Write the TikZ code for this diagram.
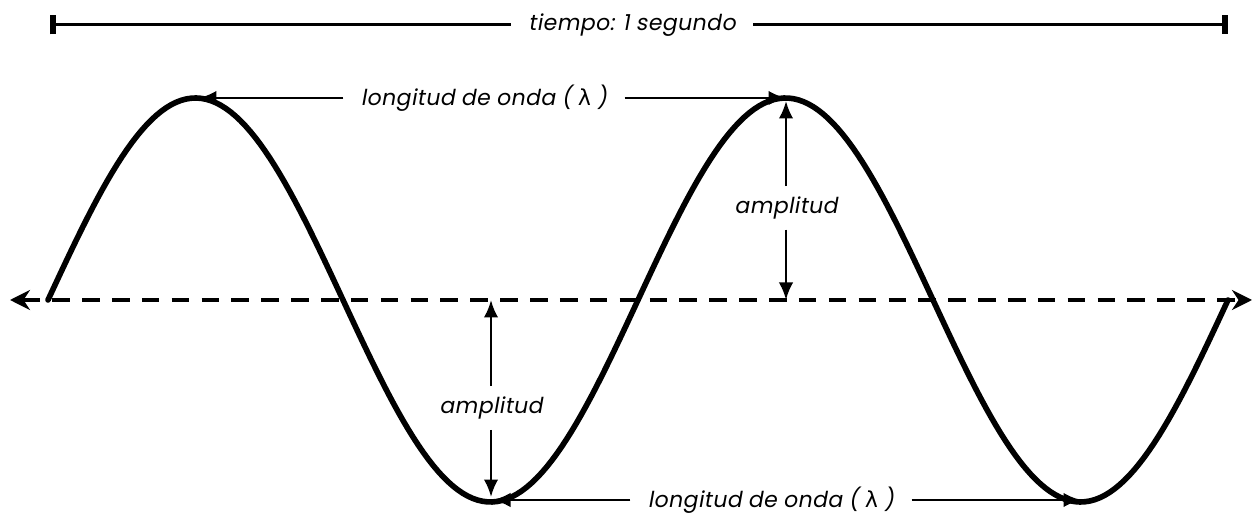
\documentclass[tikz,border=0pt]{standalone}
\usepackage{fontspec}
\newfontfamily\wavefont[FakeSlant=0.18,LetterSpace=2]{Poppins}
\newfontfamily\greekfont[FakeSlant=0.05]{DejaVu Sans}
\usepackage{tikz}
\usetikzlibrary{arrows.meta,positioning,calc}
\tikzset{
  wavelabel/.style={
    font=\wavefont\fontsize{12.5}{15}\selectfont,
    inner sep=0pt,
    outer sep=10pt
  },
  dimarrow/.style={-{Latex[length=3.5mm,width=2.9mm]}, line width=1.5pt},
  barline/.style={-{Bar[width=3.8mm,line width=3.6pt]}, line width=1.7pt},
  wave/.style={line width=3.2pt, line cap=round},
  axisline/.style={{Stealth[length=4mm,width=4mm]}-{Stealth[length=4mm,width=4mm]},
    line width=2.3pt, dash pattern=on 10pt off 7pt}
}

\begin{document}
\begin{tikzpicture}[x=0.02cm,y=-0.02cm]
  \useasboundingbox (0,0) rectangle (1254,519);
  % points on the wave
  \coordinate (ax0) at (10,300);
  \coordinate (ax1) at (1252,300);
  \coordinate (peak1) at (199,98);
  \coordinate (peak2) at (786,98);
  \coordinate (trough1) at (493,500);
  \coordinate (trough2) at (1081,500);
  \coordinate (t0) at (50,25);
  \coordinate (t1) at (1228,25);
  % axis and wave
  \draw[axisline] (ax0) -- (ax1);
  \draw[wave] plot[domain=48:1228,samples=240] (\x,{300-202*sin((\x-48)/590*360)});
  % labels
  \node[wavelabel] (time) at (632,25) {tiempo: 1 segundo};
  \node[wavelabel] (wl1) at (484,98) {longitud de onda ( {\greekfont λ} )};
  \node[wavelabel] (wl2) at (771,500) {longitud de onda ( {\greekfont λ} )};
  \node[wavelabel,outer sep=6pt] (amp1) at (786,208) {amplitud};
  \node[wavelabel,outer sep=6pt] (amp2) at (491,408) {amplitud};
  \coordinate (a1top) at ($(amp1.center |- peak2)+(0,3)$);
  \coordinate (a1bot) at (amp1.center |- ax1);
  \coordinate (a2top) at (amp2.center |- ax1);
  \coordinate (a2bot) at ($(amp2.center |- trough1)+(0,-3)$);
  % dimensions
  \draw[barline] (time) -- (t0);
  \draw[barline] (time) -- (t1);
  \draw[dimarrow] (wl1) -- (peak1);
  \draw[dimarrow] (wl1) -- (peak2);
  \draw[dimarrow] (wl2) -- (trough1);
  \draw[dimarrow] (wl2) -- (trough2);
  \draw[dimarrow] (amp1) -- (a1top);
  \draw[dimarrow] (amp1) -- (a1bot);
  \draw[dimarrow] (amp2) -- (a2top);
  \draw[dimarrow] (amp2) -- (a2bot);
\end{tikzpicture}
\end{document}
